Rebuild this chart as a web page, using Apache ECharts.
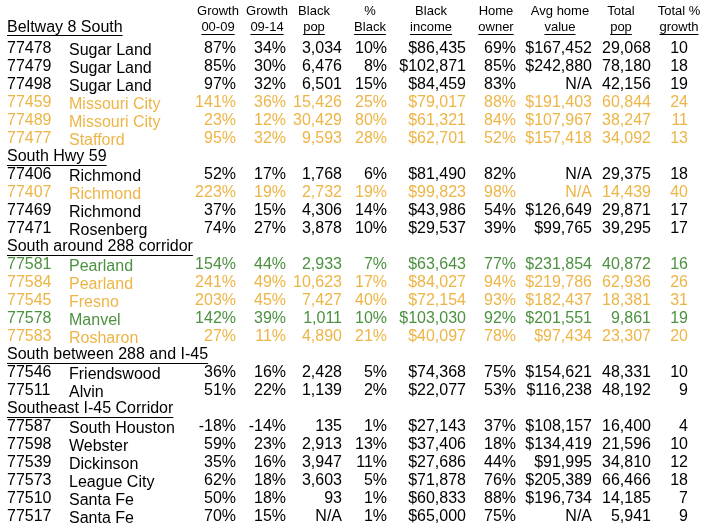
<!DOCTYPE html>
<html><head><meta charset="utf-8">
<script src="https://cdn.jsdelivr.net/npm/echarts@6/dist/echarts.min.js"></script>
<style>html,body{margin:0;padding:0;background:#fff}#c{width:707px;height:530px}</style>
</head><body><div id="c"></div>
<script>
// ---------------- DATA ----------------
const zips = ['77478','77479','77498','77459','77489','77477','77406','77407','77469','77471','77581','77584','77545','77578','77583','77546','77511','77587','77598','77539','77573','77510','77517'];
const cities = ['Sugar Land','Sugar Land','Sugar Land','Missouri City','Missouri City','Stafford','Richmond','Richmond','Richmond','Rosenberg','Pearland','Pearland','Fresno','Manvel','Rosharon','Friendswood','Alvin','South Houston','Webster','Dickinson','League City','Santa Fe','Santa Fe'];
const growth0009 = [87,85,97,141,23,95,52,223,37,74,154,241,203,142,27,36,51,-18,59,35,62,50,70];
const growth0914 = [34,30,32,36,12,32,17,19,15,27,44,49,45,39,11,16,22,-14,23,16,18,18,15];
const blackPop = [3034,6476,6501,15426,30429,9593,1768,2732,4306,3878,2933,10623,7427,1011,4890,2428,1139,135,2913,3947,3603,93,null];
const pctBlack = [10,8,15,25,80,28,6,19,14,10,7,17,40,10,21,5,2,1,13,11,5,1,1];
const blackIncome = [86435,102871,84459,79017,61321,62701,81490,99823,43986,29537,63643,84027,72154,103030,40097,74368,22077,27143,37406,27686,71878,60833,65000];
const homeOwner = [69,85,83,88,84,52,82,98,54,39,77,94,93,92,78,75,53,37,18,44,76,88,75];
const avgHomeValue = [167452,242880,null,191403,107967,157418,null,null,126649,99765,231854,219786,182437,201551,97434,154621,116238,108157,134419,91995,205389,196734,null];
const totalPop = [29068,78180,42156,60844,38247,34092,29375,14439,29871,39295,40872,62936,18381,9861,23307,48331,48192,16400,21596,34810,66466,14185,5941];
const totalGrowth = [10,18,19,24,11,13,18,40,17,17,16,26,31,19,20,10,9,4,10,12,18,7,9];
const highlight = ['','','','orange','orange','orange','','orange','','','green','orange','orange','green','orange','','','','','','','',''];
const sectionTitles = ['Beltway 8 South','South Hwy 59','South around 288 corridor','South between 288 and I-45','Southeast I-45 Corridor'];
const sectionFirstRow = [0,6,10,15,17];
const headerTop = ['Growth','Growth','Black','%','Black','Home','Avg home','Total','Total %'];
const headerBottom = ['00-09','09-14','pop','Black','income','owner','value','pop','growth'];

// ---------------- LAYOUT / STYLE ----------------
const FONT = '"Liberation Sans", Arial, Helvetica, sans-serif';
const COLORS = {'': '#000000', orange: '#EDB546', green: '#4C9140'};
const BODY_SIZE = 16, HEAD_SIZE = 13;
const ZIP_X = 7, CITY_X = 69, CITY_DY = 2;
const VALUE_RIGHT = [236,286,342,387,466,516,592,651,688];
const HEAD_CENTER = [218,267,314,370,431,496,560,621,679];
const ROW0_Y = 49, ROW_H = 18;
const HEAD1_ROW = (11.5 - ROW0_Y) / ROW_H, HEAD2_ROW = (27.5 - ROW0_Y) / ROW_H;

const cv = document.createElement('canvas').getContext('2d');
function tw(t, size){ cv.font = size + 'px ' + FONT; return cv.measureText(t).width; }
const fmtPct = v => v == null ? 'N/A' : v + '%';
const fmtNum = v => v == null ? 'N/A' : v.toLocaleString('en-US');
const fmtMoney = v => v == null ? 'N/A' : '$' + v.toLocaleString('en-US');
const fmtPlain = v => v == null ? 'N/A' : String(v);
const valueCols = [[growth0009,fmtPct],[growth0914,fmtPct],[blackPop,fmtNum],[pctBlack,fmtPct],[blackIncome,fmtMoney],[homeOwner,fmtPct],[avgHomeValue,fmtMoney],[totalPop,fmtNum],[totalGrowth,fmtPlain]];

// build cells
const cells = [];   // {x,row,text,color,size,align,dy}
const lines = [];   // {x1,x2,row,dy}
headerTop.forEach((t,j)=>{
  cells.push({x:HEAD_CENTER[j], row:HEAD1_ROW, text:t, color:'#000', size:HEAD_SIZE, align:'center', dy:0});
  const b = headerBottom[j];
  cells.push({x:HEAD_CENTER[j], row:HEAD2_ROW, text:b, color:'#000', size:HEAD_SIZE, align:'center', dy:0});
  const w = tw(b, HEAD_SIZE);
  lines.push({x1:HEAD_CENTER[j]-w/2, x2:HEAD_CENTER[j]+w/2, row:HEAD2_ROW, dy:6});
});
let pos = -1;
zips.forEach((z,i)=>{
  const s = sectionFirstRow.indexOf(i);
  if (s >= 0) {
    const r = s === 0 ? HEAD2_ROW : pos;
    cells.push({x:ZIP_X, row:r, text:sectionTitles[s], color:'#000', size:BODY_SIZE, align:'left', dy:0});
    lines.push({x1:ZIP_X, x2:ZIP_X + tw(sectionTitles[s], BODY_SIZE), row:r, dy:7.5});
    pos++;
  }
  const col = COLORS[highlight[i]];
  cells.push({x:ZIP_X, row:pos, text:z, color:col, size:BODY_SIZE, align:'left', dy:0});
  cells.push({x:CITY_X, row:pos, text:cities[i], color:col, size:BODY_SIZE, align:'left', dy:CITY_DY});
  valueCols.forEach((vc,j)=>{
    cells.push({x:VALUE_RIGHT[j], row:pos, text:vc[1](vc[0][i]), color:col, size:BODY_SIZE, align:'right', dy:0});
  });
  pos++;
});

const chart = echarts.init(document.getElementById('c'), null, {renderer:'canvas'});
chart.setOption({
  animation:false,
  backgroundColor:'#ffffff',
  grid:{left:0,right:0,top:0,bottom:0},
  xAxis:{type:'value', min:0, max:707, show:false},
  yAxis:{type:'value', inverse:true, min:-ROW0_Y/ROW_H, max:(530-ROW0_Y)/ROW_H, show:false},
  series:[
    {type:'custom', coordinateSystem:'cartesian2d', silent:true,
     data:cells.map(c=>[c.x,c.row]),
     renderItem:(params, api)=>{
       const c = cells[params.dataIndex];
       const p = api.coord([api.value(0), api.value(1)]);
       return {type:'text', x:p[0], y:p[1]+c.dy,
         style:{text:c.text, fill:c.color, fontSize:c.size, fontFamily:FONT, align:c.align, verticalAlign:'middle'}};
     }},
    {type:'custom', coordinateSystem:'cartesian2d', silent:true,
     data:lines.map(l=>[l.x1,l.row,l.x2]),
     renderItem:(params, api)=>{
       const l = lines[params.dataIndex];
       const p1 = api.coord([api.value(0), api.value(1)]);
       const p2 = api.coord([api.value(2), api.value(1)]);
       const y = Math.round(p1[1]+l.dy)+0.5;
       return {type:'line', shape:{x1:p1[0], y1:y, x2:p2[0], y2:y}, style:{stroke:'#000', lineWidth:1}};
     }}
  ]
});
</script></body></html>
